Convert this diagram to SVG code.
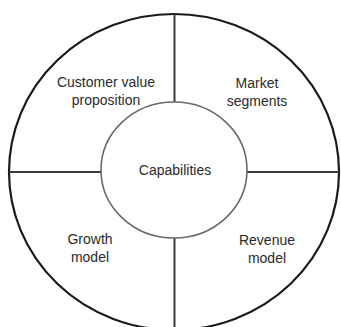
<svg xmlns="http://www.w3.org/2000/svg" width="341" height="327" viewBox="0 0 341 327">
  <style>
    .outer { fill: #ffffff; stroke: #1a1a1a; stroke-width: 2.2; }
    .inner { fill: #ffffff; stroke: #6a6a6a; stroke-width: 1.6; }
    .divider { stroke: #3a3a3a; stroke-width: 2; fill: none; }
    .label { font-family: "Liberation Sans", Arial, sans-serif; font-size: 14px; fill: #2b2b2b; text-anchor: middle; }
  </style>
  <rect width="341" height="327" fill="#ffffff"/>
  <g id="ring">
    <ellipse class="outer" cx="174" cy="172" rx="165" ry="158"/>
  </g>
  <g id="connectors">
    <line class="divider" x1="174.5" y1="14" x2="174.5" y2="102"/>
    <line class="divider" x1="174.5" y1="238" x2="174.5" y2="327"/>
    <line class="divider" x1="9" y1="172" x2="101" y2="172"/>
    <line class="divider" x1="247" y1="172" x2="339" y2="172"/>
  </g>
  <g id="capabilities">
    <ellipse class="inner" cx="174" cy="170" rx="73" ry="68"/>
    <text class="label" x="175" y="175">Capabilities</text>
  </g>
  <g id="customer-value-proposition">
    <text class="label" x="106" y="87">Customer value</text>
    <text class="label" x="106" y="105">proposition</text>
  </g>
  <g id="market-segments">
    <text class="label" x="257" y="88">Market</text>
    <text class="label" x="257" y="106">segments</text>
  </g>
  <g id="growth-model">
    <text class="label" x="90" y="244">Growth</text>
    <text class="label" x="90" y="262">model</text>
  </g>
  <g id="revenue-model">
    <text class="label" x="267" y="245">Revenue</text>
    <text class="label" x="267" y="263">model</text>
  </g>
</svg>
